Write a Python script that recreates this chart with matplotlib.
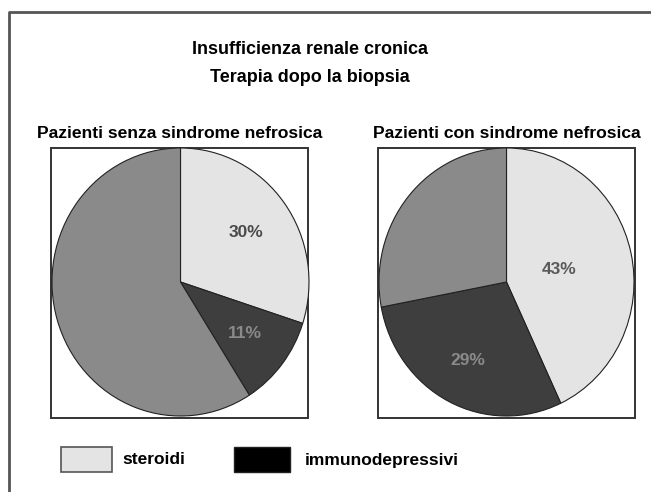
import numpy as np
import matplotlib.pyplot as plt
from matplotlib.patches import Rectangle
from matplotlib.lines import Line2D

# data
categories = ["steroidi", "immunodepressivi", "altro"]
senza_values = [30, 11, 59]
con_values = [43, 29, 28]
panel_titles = ["Pazienti senza sindrome nefrosica", "Pazienti con sindrome nefrosica"]
title_lines = ["Insufficienza renale cronica", "Terapia dopo la biopsia"]

W, H = 651, 492
font = ["Liberation Sans", "DejaVu Sans"]
colors = ["#e4e4e4", "#3e3e3e", "#8a8a8a"]
label_colors = [["#4a4a4a", "#8a8a8a"], ["#5a5a5a", "#8a8a8a"]]
label_dist = [[0.63, 0.63], [0.42, 0.66]]

fig = plt.figure(figsize=(W / 100, H / 100), dpi=100)
ax = fig.add_axes([0, 0, 1, 1])


def y(v):
    # image row -> data y
    return H - v


# (values, pie x0, pie x1, box x0, box x1) in image pixels
panels = [
    (senza_values, 52, 309, 51, 308),
    (con_values, 379, 634, 378, 635),
]
pie_top, pie_bottom = 148, 416

for i, (values, px0, px1, bx0, bx1) in enumerate(panels):
    ax.add_patch(Rectangle((bx0, y(418)), bx1 - bx0, 270, fill=False,
                           edgecolor="#333333", linewidth=1.4, zorder=1))
    pax = fig.add_axes([px0 / W, y(pie_bottom) / H,
                        (px1 - px0) / W, (pie_bottom - pie_top) / H])
    wedges, texts = pax.pie(
        values,
        colors=colors,
        startangle=90,
        counterclock=False,
        wedgeprops=dict(edgecolor="#222222", linewidth=0.8),
    )
    pax.set_aspect("auto")
    pax.set_xlim(-1, 1)
    pax.set_ylim(-1, 1)
    pax.axis("off")
    for j in range(2):
        w = wedges[j]
        mid = np.deg2rad((w.theta1 + w.theta2) / 2)
        d = label_dist[i][j]
        pax.text(d * np.cos(mid), d * np.sin(mid), f"{values[j]}%",
                 ha="center", va="center", fontsize=12.5, fontweight="bold",
                 family=font, color=label_colors[i][j])
    ax.text((bx0 + bx1) / 2, y(133), panel_titles[i], ha="center", va="center",
            fontsize=12.6, fontweight="bold", family=font, color="black")

ax.text(310, y(50), title_lines[0], ha="center", va="center",
        fontsize=13, fontweight="bold", family=font)
ax.text(310, y(77), title_lines[1], ha="center", va="center",
        fontsize=13, fontweight="bold", family=font)

# legend
ax.add_patch(Rectangle((61, y(472)), 51, 25, facecolor=colors[0],
                       edgecolor="#555555", linewidth=1.2))
ax.text(122, y(460), categories[0], ha="left", va="center",
        fontsize=12.5, fontweight="bold", family=font)
ax.add_patch(Rectangle((234, y(472)), 56, 25, facecolor="black",
                       edgecolor="#222222", linewidth=1.0))
ax.text(305, y(460), categories[1], ha="left", va="center",
        fontsize=12.5, fontweight="bold", family=font)

# outer frame (open on right and bottom)
ax.add_line(Line2D([9, 9, W], [0, y(12), y(12)], color="#555555", linewidth=2))

ax.set_xlim(0, W)
ax.set_ylim(0, H)
ax.axis("off")

fig.savefig("out.png", dpi=100)
plt.close(fig)
